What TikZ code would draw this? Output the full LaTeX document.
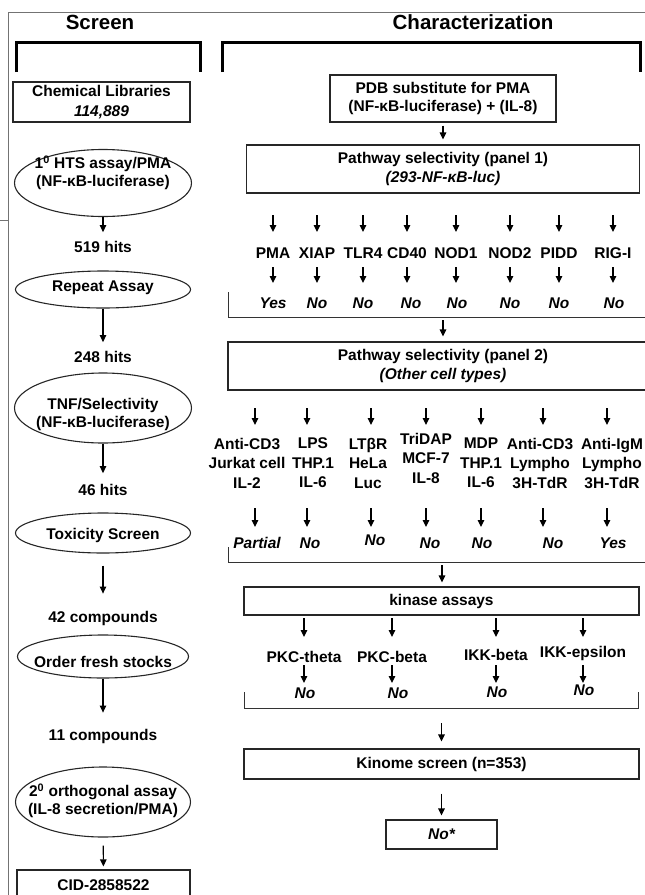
\documentclass[tikz,border=0pt]{standalone}
\usepackage{fontspec}
\setmainfont{Liberation Sans}
\usetikzlibrary{arrows.meta, shapes.geometric}

\begin{document}
\begin{tikzpicture}[x=1pt, y=-1pt,
	every node/.style={inner sep=0pt, font=\bfseries\fontsize{15.5}{18}\selectfont},
	txt/.style={align=center},
	box/.style={draw=black!85, line width=1.1pt, align=center},
	oval/.style={draw=black!85, line width=1.1pt, ellipse},
	cell/.style={align=center, font=\bfseries\fontsize{15.5}{19.5}\selectfont},
	res/.style={font=\bfseries\itshape\fontsize{15.5}{18}\selectfont},
	head/.style={font=\bfseries\fontsize{20.5}{24}\selectfont},
	arr/.style={-{Triangle[length=7pt,width=6.5pt]}, line width=1.1pt},
	bar/.style={draw=black!80, line width=1pt},
	brak/.style={line width=3pt},
	frame/.style={draw=black!55, line width=0.8pt}]

	\useasboundingbox (0,0) rectangle (645,895);
	\clip (0,0) rectangle (645,895);

	% outer frame
	\draw[frame] (645,12) -- (8,12) -- (8,895);
	\draw[frame] (0,220) -- (8,220);

	% headings
	\node[head] (scr) at (100,22) {Screen};
	\node[head] (chr) at (473,22) {Characterization};
	\draw[brak] (16,72) -- (16,42) -- (200,42) -- (200,72);
	\draw[brak] (222,72) -- (222,42) -- (640,42) -- (640,72);

	% screen column
	\node[box, minimum width=177pt, minimum height=40pt] (lib) at (101.5,102) {Chemical Libraries\\[2pt]\textit{114,889}};
	\node[oval, minimum width=177pt, minimum height=67pt] (hts) at (103,183) {};
	\node[txt] (htsT) at (103,173) {1\textsuperscript{0} HTS assay/PMA\\(NF-κB-luciferase)};
	\node (h519) at (103,247) {519 hits};
	\node[oval, minimum width=175pt, minimum height=37pt] (rep) at (103,289.5) {};
	\node (repT) at (103,288) {Repeat Assay};
	\node (h248) at (103,357) {248 hits};
	\node[oval, minimum width=177pt, minimum height=70pt] (tnf) at (103,408) {};
	\node[txt] (tnfT) at (103,414) {TNF/Selectivity\\(NF-κB-luciferase)};
	\node (h46) at (103,490) {46 hits};
	\node[oval, minimum width=175pt, minimum height=40pt] (tox) at (103,533) {};
	\node (toxT) at (103,535) {Toxicity Screen};
	\node (c42) at (103,618) {42 compounds};
	\node[oval, minimum width=171pt, minimum height=43pt] (ord) at (103,656.5) {};
	\node (ordT) at (103,662) {Order fresh stocks};
	\node (c11) at (103,736) {11 compounds};
	\node[oval, minimum width=175pt, minimum height=70pt] (ort) at (103,802) {};
	\node[txt] (ortT) at (103,801) {2\textsuperscript{0} orthogonal assay\\(IL-8 secretion/PMA)};
	\node[box, minimum width=173pt, minimum height=40pt] (cid) at (103.5,890) {};
	\node (cidT) at (103.5,885) {CID-2858522};
	% arrows
	\draw[arr, shorten >=9pt] (hts) -- (h519);
	\draw[arr, shorten >=9pt] (rep) -- (h248);
	\draw[arr, shorten >=11pt] (tnf) -- (h46);
	\draw[arr, shorten <=12pt, shorten >=17pt] (tox) -- (c42);
	\draw[arr, shorten >=16pt] (ord) -- (c11);
	\draw[arr, shorten <=8pt, shorten >=3pt] (ort) -- (cid);

	% characterization column
	\node[box, minimum width=226pt, minimum height=47pt] (pdb) at (443,98.5) {PDB substitute for PMA\\(NF-κB-luciferase) + (IL-8)};
	\node[box, minimum width=393pt, minimum height=48pt] (pw1) at (443,169) {Pathway selectivity (panel 1)\\[1pt]\textit{(293-NF-κB-luc)}};
	\draw[arr, shorten <=3pt, shorten >=5pt] (pdb) -- (pw1);

	\coordinate (ra1) at (0,215); \coordinate (rb1) at (0,232);
	\coordinate (ra2) at (0,267); \coordinate (rb2) at (0,283);
	\foreach \x/\t [count=\i] in {273/PMA, 317/XIAP, 363/TLR4, 407/CD40, 456/NOD1, 510/NOD2, 559/PIDD, 613/RIG-I}
		\node (p\i) at (\x,253) {\t};
	\foreach \x/\t [count=\i] in {273/Yes, 317/No, 363/No, 411/No, 457/No, 510/No, 559/No, 614/No}
		\node[res] (q\i) at (\x,303) {\t};
	\foreach \i in {1,...,8} {
		\draw[arr] (p\i |- ra1) -- (p\i |- rb1);
		\draw[arr] (p\i |- ra2) -- (p\i |- rb2);
	}
	\draw[bar] (228,292) -- (228,317) -- (650,317);
	\coordinate (b1) at (443,317);

	\node[box, minimum width=430pt, minimum height=48pt] (pw2) at (443,366) {Pathway selectivity (panel 2)\\[1pt]\textit{(Other cell types)}};
	\draw[arr, shorten <=3pt, shorten >=5pt] (b1) -- (b1 |- pw2.north);

	\coordinate (ra3) at (0,408); \coordinate (rb3) at (0,425);
	\coordinate (ra4) at (0,508); \coordinate (rb4) at (0,527);
	\node[cell] (c1) at (247,463) {Anti-CD3\\Jurkat cell\\IL-2};
	\node[cell] (c2) at (313,463) {LPS\\THP.1\\IL-6};
	\node[cell] (c3) at (368,463) {LTβR\\HeLa\\Luc};
	\node[cell] (c4) at (426,458) {TriDAP\\MCF-7\\IL-8};
	\node[cell] (c5) at (481,463) {MDP\\THP.1\\IL-6};
	\node[cell] (c6) at (540,463) {Anti-CD3\\Lympho\\3H-TdR};
	\node[cell] (c7) at (612,463) {Anti-IgM\\Lympho\\3H-TdR};
	\foreach \x/\y/\t [count=\i] in {257/543/Partial, 310/543/No, 375/540/No, 430/543/No, 482/543/No, 553/543/No, 613/543/Yes}
		\node[res] (d\i) at (\x,\y) {\t};
	% arrows sit a little off the text centres
	\foreach \i/\dx in {1/8, 2/-6, 3/3, 4/0, 5/0, 6/3, 7/-5} {
		\draw[arr] ([xshift=\dx pt]c\i |- ra3) -- ([xshift=\dx pt]c\i |- rb3);
		\draw[arr] ([xshift=\dx pt]c\i |- ra4) -- ([xshift=\dx pt]c\i |- rb4);
	}
	\draw[bar] (228,547) -- (228,562) -- (650,562);
	\coordinate (b2) at (442,562);

	\node[box, minimum width=395pt, minimum height=28pt] (kin) at (441.5,601) {kinase assays};
	\draw[arr, shorten <=3pt, shorten >=4pt] (b2) -- (b2 |- kin.north);

	\coordinate (ra5) at (0,618); \coordinate (rb5) at (0,637);
	\coordinate (ra6) at (0,665); \coordinate (rb6) at (0,683);
	\foreach \x/\y/\t [count=\i] in {304/657/PKC-theta, 392/657/PKC-beta, 496/655/IKK-beta, 583/653/IKK-epsilon}
		\node (k\i) at (\x,\y) {\t};
	\foreach \x/\y [count=\i] in {305/693, 398/693, 497/692, 584/690}
		\node[res] (n\i) at (\x,\y) {No};
	\foreach \i in {1,...,4} {
		\draw[arr] (k\i |- ra5) -- (k\i |- rb5);
		\draw[arr] (k\i |- ra6) -- (k\i |- rb6);
	}
	\draw[bar] (244,692) -- (244,708) -- (638,708) -- (638,692);
	\coordinate (b3) at (441.5,708);

	\node[box, minimum width=395pt, minimum height=30pt] (kinome) at (441.5,764) {Kinome screen (n=353)};
	\draw[arr, shorten <=15pt, shorten >=7pt] (b3) -- (kinome);
	\node[box, res, minimum width=111pt, minimum height=29pt] (nostar) at (441.5,834.5) {No*};
	\draw[arr, shorten <=14pt, shorten >=4pt] (kinome) -- (nostar);
\end{tikzpicture}
\end{document}
